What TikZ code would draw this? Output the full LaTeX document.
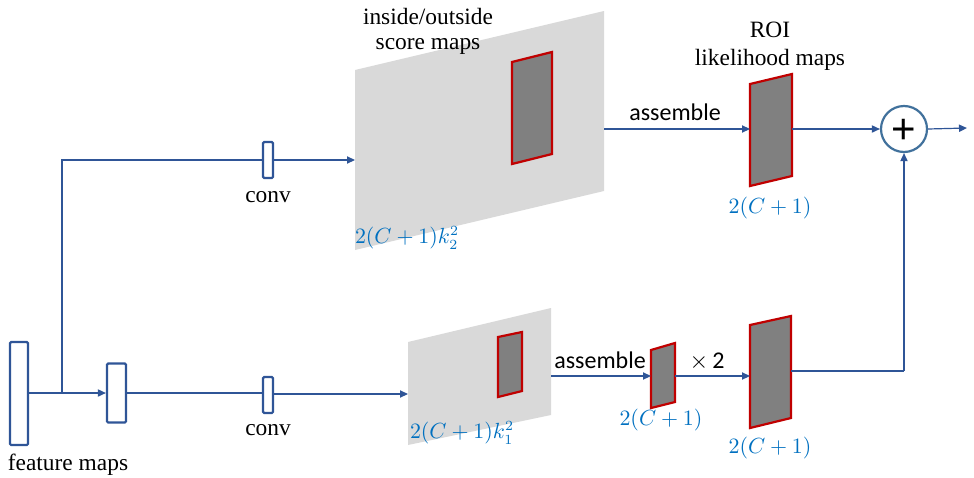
\documentclass[tikz,border=0pt]{standalone}
\usepackage{fontspec}
\setmainfont{Liberation Serif}
\newfontfamily\calfont{Carlito}
\newfontfamily\plusfont{Liberation Sans}
\usetikzlibrary{arrows.meta}
\definecolor{lineblue}{HTML}{2F5597}
\definecolor{circblue}{HTML}{41719C}
\definecolor{labblue}{HTML}{0070C0}
\definecolor{mapgray}{HTML}{D9D9D9}
\definecolor{roigray}{HTML}{808080}
\definecolor{roired}{HTML}{C00000}
\tikzset{
  conn/.style={draw=lineblue, line width=0.6pt},
  arr/.style={conn, -{Triangle[length=4pt,width=3.6pt]}},
  fbox/.style={draw=lineblue, line width=1.1pt, fill=white, rounded corners=0.6pt, inner sep=0pt},
  bigmap/.style={fill=mapgray},
  roimap/.style={fill=roigray, draw=roired, line width=1.1pt, line join=miter},
  sertext/.style={font=\fontsize{11.7}{13}\selectfont, inner sep=0pt},
  caltext/.style={font=\calfont\fontsize{12}{14}\selectfont, inner sep=0pt},
  mathlab/.style={text=labblue, font=\fontsize{10.5}{12}\selectfont, inner sep=0pt},
}
\begin{document}
\begin{tikzpicture}[x=0.5pt, y=-0.5pt]
\useasboundingbox (0,0) rectangle (974,477);

% ---- big maps (gray) ----
\fill[bigmap] (355,70) -- (604,11) -- (604,191) -- (355,250) -- cycle;
\fill[bigmap] (408,342) -- (551,308) -- (551,415) -- (408,445) -- cycle;
% ---- roi inner maps ----
\draw[roimap] (512,62) -- (552,52) -- (552,154) -- (512,164) -- cycle;
\draw[roimap] (498,337) -- (522,332) -- (522,391) -- (498,397) -- cycle;
\draw[roimap] (750,84) -- (792,74) -- (792,176) -- (750,186) -- cycle;
\draw[roimap] (651,350) -- (675,343) -- (675,402) -- (651,408) -- cycle;
\draw[roimap] (750,325) -- (791,316) -- (791,418) -- (750,428) -- cycle;

% connector anchor coordinates on maps
\coordinate (topin) at (355,160);
\coordinate (topout) at (604,129);
\coordinate (roitopin) at (750,129);
\coordinate (roitopout) at (792,129);
\coordinate (lowin) at (408,394);
\coordinate (lowout) at (551,376);
\coordinate (smallin) at (651,376);
\coordinate (smallout) at (675,376);
\coordinate (roilowin) at (750,376);
\coordinate (roilowout) at (791,371);
\coordinate (j1) at (62,393);
\coordinate (j2) at (62,160);
\coordinate (j3) at (904,371);
\coordinate (outend) at (967,128);

% ---- boxes ----
\node[fbox, minimum width=9pt, minimum height=51.5pt] (fm) at (19,393.5) {};
\node[fbox, minimum width=9.5pt, minimum height=29.5pt] (b2) at (116.5,393) {};
\node[fbox, minimum width=5pt, minimum height=18pt] (conv1) at (268,160) {};
\node[fbox, minimum width=5pt, minimum height=18pt] (conv2) at (268,395) {};
\node[draw=circblue, line width=1.1pt, circle, minimum size=23pt, inner sep=0pt, fill=white] (sum) at (904,129) {};
\node[font=\plusfont\fontsize{21}{21}\selectfont, inner sep=0pt] (plus) at (904,131) {+};

% ---- connectors ----
\draw[conn] (fm.east |- j1) -- (j1);
\draw[arr] (j1) -- (b2.west);
\draw[conn] (j1) -- (j2) -- (conv1.west);
\draw[arr] (conv1.east) -- (topin);
\draw[conn] (b2.east) -- (conv2.west |- b2.east);
\draw[arr] (conv2.east |- lowin) -- (lowin);
\draw[arr] (topout) -- (roitopin);
\draw[arr] (roitopout) -- (sum.west);
\draw[arr] (sum.east) -- (outend);
\draw[arr] (lowout) -- (smallin);
\draw[arr] (smallout) -- (roilowin);
\draw[conn] (roilowout) -- (j3);
\draw[arr] (j3) -- (sum.south);

% ---- texts ----
\node[sertext] (tfm) at (68,465) {feature maps};
\node[sertext] (tconv1) at (268,197) {conv};
\node[sertext] (tconv2) at (268,430) {conv};
\node[sertext] (tio1) at (428,16) {inside/outside};
\node[sertext] (tio2) at (428,46) {score maps};
\node[sertext] (troi1) at (770,30) {ROI};
\node[sertext] (troi2) at (770,60) {likelihood maps};
\node[caltext] (tas1) at (675,112) {assemble};
\node[caltext] (tas2) at (600,360) {assemble};
\node[caltext] (tx2) at (707,362) {$\times$\,2};
\node[mathlab] (l1) at (407,238) {$2(C+1)k_2^2$};
\node[mathlab] (l2) at (462,433) {$2(C+1)k_1^2$};
\node[mathlab] (l3) at (770,208) {$2(C+1)$};
\node[mathlab] (l4) at (661,420) {$2(C+1)$};
\node[mathlab] (l5) at (770,448) {$2(C+1)$};
\end{tikzpicture}
\end{document}
